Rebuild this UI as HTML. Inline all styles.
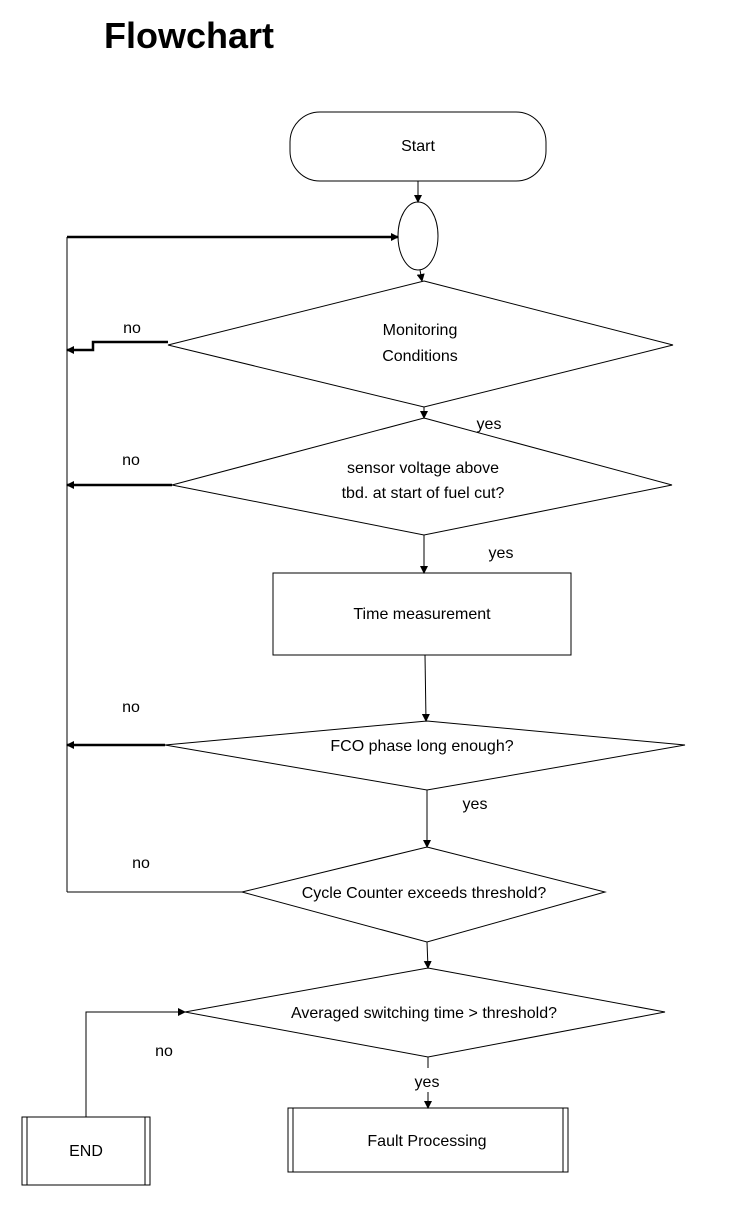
<!DOCTYPE html>
<html><head><style>
body{margin:0;background:#fff;}
svg text{font-family:"Liberation Sans",sans-serif;fill:#000;}
</style></head><body>
<svg width="736" height="1200" viewBox="0 0 736 1200" xmlns="http://www.w3.org/2000/svg">
<defs><marker id="a" markerWidth="8" markerHeight="8" refX="7" refY="4" orient="auto" markerUnits="userSpaceOnUse"><path d="M0,0 L8,4 L0,8z" fill="#000"/></marker></defs>
<text x="104" y="48" font-size="36" font-weight="bold">Flowchart</text>
<g fill="none" stroke="#000" stroke-width="1">
<rect x="290" y="112" width="256" height="69" rx="30" ry="30"/>
<ellipse cx="418" cy="236" rx="20" ry="34"/>
<polygon points="424,281 673,345 424,407 168,345"/>
<polygon points="424,418 672,485 424,535 172,485"/>
<rect x="273" y="573" width="298" height="82"/>
<polygon points="427,721 685,745 427,790 165,745"/>
<polygon points="427,847 605,892 427,942 242,892"/>
<polygon points="428,968 665,1012 428,1057 185,1012"/>
<rect x="288" y="1108" width="280" height="64"/>
<line x1="293" y1="1108" x2="293" y2="1172"/><line x1="563" y1="1108" x2="563" y2="1172"/>
<rect x="22" y="1117" width="128" height="68"/>
<line x1="27" y1="1117" x2="27" y2="1185"/><line x1="145" y1="1117" x2="145" y2="1185"/>
<line x1="67" y1="237" x2="67" y2="892"/>
<line x1="418" y1="181" x2="418" y2="202" marker-end="url(#a)"/>
<line x1="420" y1="270" x2="422" y2="281" marker-end="url(#a)"/>
<line x1="424" y1="407" x2="424" y2="418" marker-end="url(#a)"/>
<line x1="424" y1="535" x2="424" y2="573" marker-end="url(#a)"/>
<line x1="425" y1="655" x2="426" y2="721" marker-end="url(#a)"/>
<line x1="427" y1="790" x2="427" y2="847" marker-end="url(#a)"/>
<line x1="427" y1="942" x2="428" y2="968" marker-end="url(#a)"/>
<line x1="428" y1="1057" x2="428" y2="1068"/>
<line x1="428" y1="1092" x2="428" y2="1108" marker-end="url(#a)"/>
<line x1="242" y1="892" x2="67" y2="892"/>
<polyline points="86,1117 86,1012 185,1012" marker-end="url(#a)"/>
</g>
<g fill="none" stroke="#000" stroke-width="2.5">
<line x1="67" y1="237" x2="398" y2="237" marker-end="url(#a)"/>
<polyline points="168,342 93,342 93,350 67,350" marker-end="url(#a)"/>
<line x1="172" y1="485" x2="67" y2="485" marker-end="url(#a)"/>
<line x1="165" y1="745" x2="67" y2="745" marker-end="url(#a)"/>
</g>
<g font-size="16" text-anchor="middle">
<text x="418" y="151">Start</text>
<text x="420" y="335">Monitoring</text>
<text x="420" y="361">Conditions</text>
<text x="423" y="473">sensor voltage above</text>
<text x="423" y="498">tbd. at start of fuel cut?</text>
<text x="422" y="619">Time measurement</text>
<text x="422" y="751">FCO phase long enough?</text>
<text x="424" y="898">Cycle Counter exceeds threshold?</text>
<text x="424" y="1018">Averaged switching time &gt; threshold?</text>
<text x="427" y="1146">Fault Processing</text>
<text x="86" y="1156">END</text>
<text x="489" y="429">yes</text>
<text x="501" y="558">yes</text>
<text x="475" y="809">yes</text>
<text x="427" y="1087">yes</text>
<text x="132" y="333">no</text>
<text x="131" y="465">no</text>
<text x="131" y="712">no</text>
<text x="141" y="868">no</text>
<text x="164" y="1056">no</text>
</g>
</svg>
</body></html>
